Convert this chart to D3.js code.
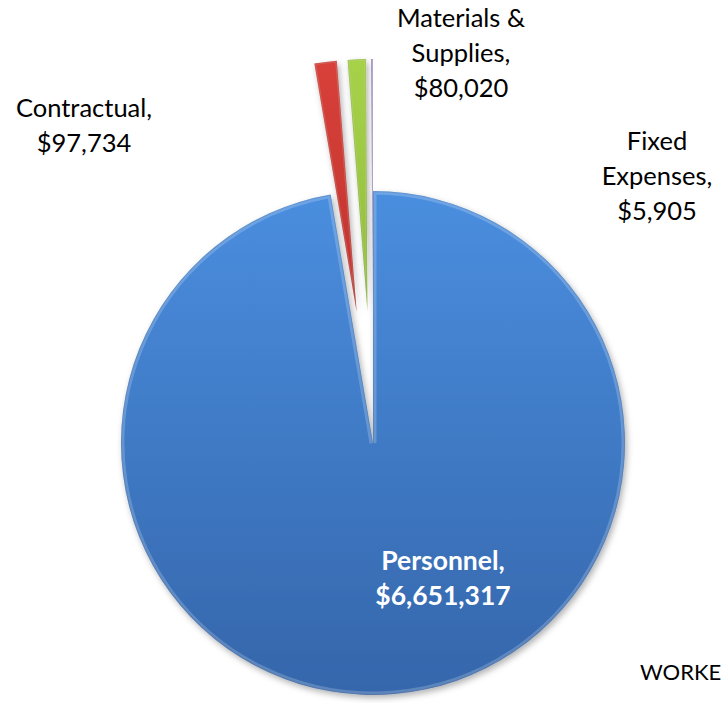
<!DOCTYPE html>
<html>
<head>
<meta charset="utf-8">
<script src="https://cdn.jsdelivr.net/npm/d3@7"></script>
<style>
  html, body { margin: 0; padding: 0; background: #fff; overflow: hidden; }
  svg { display: block; }
</style>
</head>
<body>
<svg id="chart" width="721" height="703"></svg>
<script>
// ---- data ----
const categories = ["Personnel", "Contractual", "Materials & Supplies", "Fixed Expenses"];
const values = [6651317, 97734, 80020, 5905];
const labelLines = [
  ["Personnel,", "$6,651,317"],
  ["Contractual,", "$97,734"],
  ["Materials &", "Supplies,", "$80,020"],
  ["Fixed", "Expenses,", "$5,905"]
];
const exploded = [false, true, true, true];

// ---- styles / layout ----
const colors = [
  ["#4a8edf", "#3566ab"],
  ["#d8403a", "#a82622"],
  ["#a6d24a", "#7aa62e"],
  ["#8c6fb0", "#6a4f8e"]
];
const cx = 373, cy = 443, R = 252, explodeDist = 132;
const labelPos = [
  {x: 443, y: 570, anchor: "middle", fill: "#ffffff", weight: "bold", size: 26.5},
  {x: 84, y: 117, anchor: "middle", fill: "#000", weight: "normal", size: 25.5},
  {x: 461, y: 27, anchor: "middle", fill: "#000", weight: "normal", size: 25.5},
  {x: 657, y: 150, anchor: "middle", fill: "#000", weight: "normal", size: 25.5}
];
const lineH = 35;

const svg = d3.select("#chart");
const defs = svg.append("defs");

defs.append("filter").attr("id", "shadow")
  .attr("x", "-20%").attr("y", "-20%").attr("width", "140%").attr("height", "140%")
  .append("feDropShadow")
  .attr("dx", 2).attr("dy", 3).attr("stdDeviation", 3)
  .attr("flood-color", "#000").attr("flood-opacity", 0.3);

colors.forEach((c, i) => {
  const g = defs.append("linearGradient").attr("id", "grad" + i)
    .attr("gradientUnits", "userSpaceOnUse")
    .attr("x1", 0).attr("y1", -R).attr("x2", 0).attr("y2", R);
  g.append("stop").attr("offset", "0%").attr("stop-color", c[0]);
  g.append("stop").attr("offset", "100%").attr("stop-color", c[1]);
});

const pie = d3.pie().sort(null).value(d => d)
  .startAngle(0).endAngle(2 * Math.PI);
const arcs = pie(values);
const arc = d3.arc().innerRadius(0).outerRadius(R);

const g = svg.append("g").attr("transform", `translate(${cx},${cy})`);

const slices = g.selectAll("g.slice").data(arcs).enter().append("g")
  .attr("class", "slice")
  .attr("transform", (d, i) => {
    if (!exploded[i]) return null;
    const mid = (d.startAngle + d.endAngle) / 2;
    return `translate(${Math.sin(mid) * explodeDist},${-Math.cos(mid) * explodeDist})`;
  });

slices.each(function(d, i) {
  const s = d3.select(this);
  const big = (d.endAngle - d.startAngle) > 0.5;
  const tiny = (d.endAngle - d.startAngle) < 0.02;
  s.append("clipPath").attr("id", "clip" + i)
    .append("path").attr("d", arc(d));
  s.append("path")
    .attr("d", arc(d))
    .attr("fill", `url(#grad${i})`)
    .attr("filter", tiny ? null : "url(#shadow)");
  if (tiny) return;
  // bevel highlight
  s.append("path")
    .attr("d", arc(d))
    .attr("fill", "none")
    .attr("stroke", "#ffffff")
    .attr("stroke-opacity", big ? 0.2 : 0.18)
    .attr("stroke-width", big ? 7 : 3)
    .attr("clip-path", `url(#clip${i})`);
  s.append("path")
    .attr("d", arc(d))
    .attr("fill", "none")
    .attr("stroke", "#000")
    .attr("stroke-opacity", 0.1)
    .attr("stroke-width", 2)
    .attr("clip-path", `url(#clip${i})`);
});

// labels
const font = "Lato, 'Open Sans', sans-serif";
labelLines.forEach((lines, i) => {
  const p = labelPos[i];
  const t = svg.append("text")
    .attr("x", p.x).attr("y", p.y)
    .attr("text-anchor", p.anchor)
    .attr("font-family", font)
    .attr("font-size", p.size)
    .attr("font-weight", p.weight)
    .attr("fill", p.fill);
  lines.forEach((ln, k) => {
    t.append("tspan").attr("x", p.x).attr("y", p.y + k * lineH).text(ln);
  });
});

svg.append("text")
  .attr("x", 640).attr("y", 680)
  .attr("font-family", font)
  .attr("font-size", 22)
  .attr("fill", "#000")
  .text("WORKE");
</script>
</body>
</html>
